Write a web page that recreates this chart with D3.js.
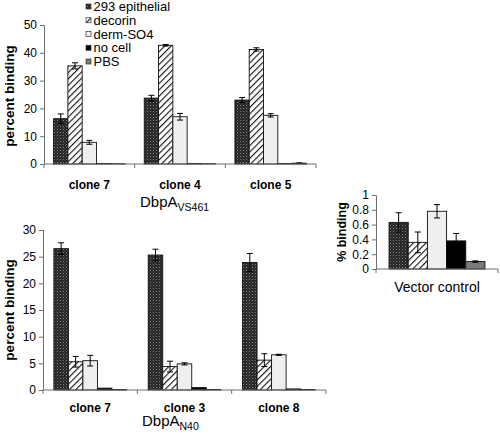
<!DOCTYPE html>
<html><head><meta charset="utf-8">
<script src="https://cdn.jsdelivr.net/npm/d3@7"></script>
<style>body{margin:0;background:#fff}svg{display:block;font-family:"Liberation Sans",Arial,sans-serif}</style>
</head><body><svg id="c" width="500" height="435"></svg>
<script>
const series = ["293 epithelial","decorin","derm-SO4","no cell","PBS"];

const topClones = ["clone 7","clone 4","clone 5"];
const topEpithelial = [16.3, 23.7, 23.0];
const topDecorin    = [35.3, 42.7, 41.2];
const topDerm       = [7.8, 17.0, 17.5];
const topNoCell     = [0.2, 0.2, 0.2];
const topPBS        = [0.1, 0.1, 0.3];
const topErrEpithelial = [1.7, 1.0, 0.9];
const topErrDecorin    = [1.1, 0.3, 0.6];
const topErrDerm       = [0.7, 1.2, 0.6];
const topErrNoCell     = [0, 0, 0];
const topErrPBS        = [0, 0, 0.1];
const topTicks = [0,10,20,30,40,50];

const botClones = ["clone 7","clone 3","clone 8"];
const botEpithelial = [26.5, 25.3, 23.9];
const botDecorin    = [5.3, 4.4, 5.6];
const botDerm       = [5.5, 4.9, 6.6];
const botNoCell     = [0.35, 0.45, 0.2];
const botPBS        = [0.1, 0.1, 0.1];
const botErrEpithelial = [1.1, 1.1, 1.7];
const botErrDecorin    = [1.0, 1.0, 1.2];
const botErrDerm       = [1.0, 0.2, 0.1];
const botErrNoCell     = [0, 0, 0];
const botErrPBS        = [0, 0, 0];
const botTicks = [0,5,10,15,20,25,30];

const vecClones = ["Vector control"];
const vecValues = [0.63, 0.36, 0.78, 0.38, 0.10];
const vecErrors = [0.13, 0.14, 0.09, 0.10, 0.01];
const vecTicks = [0,0.2,0.4,0.6,0.8,1];

const svg = d3.select("#c");
const defs = svg.append("defs");
const pd = defs.append("pattern").attr("id","pDark").attr("patternUnits","userSpaceOnUse").attr("width",3).attr("height",3);
pd.append("rect").attr("width",3).attr("height",3).attr("fill","#242424");
pd.append("rect").attr("x",0).attr("y",0).attr("width",1).attr("height",1).attr("fill","#888");
pd.append("rect").attr("x",1.5).attr("y",1.5).attr("width",1).attr("height",1).attr("fill","#555");
const ph = defs.append("pattern").attr("id","pHatch").attr("patternUnits","userSpaceOnUse").attr("width",4.5).attr("height",4.5).attr("patternTransform","rotate(45)");
ph.append("rect").attr("width",4.5).attr("height",4.5).attr("fill","#fff");
ph.append("line").attr("x1",0).attr("y1",0).attr("x2",0).attr("y2",4.5).attr("stroke","#111").attr("stroke-width",2.2);

const fills = ["url(#pDark)","url(#pHatch)","#efefef","#000","#7a7a7a"];
const axisColor = "#6e6e6e";

function chart(opt){
  const g = svg.append("g");
  const x0 = d3.scaleBand().domain(opt.clones).range(opt.xr).paddingInner(0).paddingOuter(0);
  const x1 = d3.scaleBand().domain(series).range([0,x0.bandwidth()]).paddingInner(0).paddingOuter(opt.pad);
  const y = d3.scaleLinear().domain([0,opt.max]).range(opt.yr);
  const ya = d3.axisLeft(y).tickValues(opt.ticks).tickSize(4).tickPadding(3).tickFormat(opt.fmt||(d=>d));
  const yg = g.append("g").attr("transform",`translate(${opt.xr[0]},0)`).call(ya);
  yg.select(".domain").attr("stroke",axisColor);
  yg.selectAll(".tick line").attr("stroke",axisColor);
  yg.selectAll("text").attr("font-size",opt.tickFont||12).attr("fill","#000").attr("font-family","Liberation Sans, Arial");
  const data = [];
  opt.clones.forEach((c,i)=>series.forEach((s,j)=>data.push({c,s,j,v:opt.vals[j][i],e:opt.errs[j][i]})));
  const bg = g.append("g");
  bg.selectAll("rect").data(data).join("rect")
    .attr("x",d=>x0(d.c)+x1(d.s)).attr("width",x1.bandwidth())
    .attr("y",d=>y(d.v)).attr("height",d=>y(0)-y(d.v))
    .attr("fill",d=>fills[d.j]).attr("stroke","#111").attr("stroke-width",0.9);
  const eg = g.append("g").attr("stroke","#000").attr("stroke-width",1);
  data.filter(d=>d.e>0).forEach(d=>{
    const cx = x0(d.c)+x1(d.s)+x1.bandwidth()/2;
    eg.append("line").attr("x1",cx).attr("x2",cx).attr("y1",y(d.v+d.e)).attr("y2",y(d.v-d.e));
    eg.append("line").attr("x1",cx-3).attr("x2",cx+3).attr("y1",y(d.v+d.e)).attr("y2",y(d.v+d.e));
    eg.append("line").attr("x1",cx-3).attr("x2",cx+3).attr("y1",y(d.v-d.e)).attr("y2",y(d.v-d.e));
  });
  const xa = g.append("g");
  xa.append("line").attr("x1",opt.xr[0]).attr("x2",opt.xr[1]).attr("y1",y(0)).attr("y2",y(0)).attr("stroke",axisColor);
  const bounds = opt.clones.map(c=>x0(c)).concat([opt.xr[1]]);
  xa.selectAll("line.t").data(bounds).join("line").attr("class","t")
    .attr("x1",d=>d).attr("x2",d=>d).attr("y1",y(0)).attr("y2",y(0)+4).attr("stroke",axisColor);
  xa.selectAll("text").data(opt.clones).join("text")
    .attr("x",d=>x0(d)+x0.bandwidth()/2).attr("y",opt.labY)
    .attr("text-anchor","middle").attr("font-size",opt.catFont).attr("font-weight",opt.catBold?"bold":"normal")
    .text(d=>d);
  g.append("text").attr("transform",`translate(${opt.ylx},${opt.yly}) rotate(-90)`)
    .attr("text-anchor","middle").attr("dominant-baseline","central")
    .attr("font-size",opt.ylFont).attr("font-weight","bold").text(opt.ylab);
  return g;
}

chart({clones:topClones, xr:[44,316], yr:[164,25], max:50, ticks:topTicks, pad:0.67,
  vals:[topEpithelial,topDecorin,topDerm,topNoCell,topPBS],
  errs:[topErrEpithelial,topErrDecorin,topErrDerm,topErrNoCell,topErrPBS],
  labY:189, catFont:12, catBold:true, ylab:"percent binding", ylx:9, yly:96, ylFont:13.5});

chart({clones:botClones, xr:[43,326], yr:[390,230], max:30, ticks:botTicks, pad:0.75,
  vals:[botEpithelial,botDecorin,botDerm,botNoCell,botPBS],
  errs:[botErrEpithelial,botErrDecorin,botErrDerm,botErrNoCell,botErrPBS],
  labY:412, catFont:12, catBold:true, ylab:"percent binding", ylx:9, yly:310, ylFont:13.5});

chart({clones:vecClones, xr:[376,498], yr:[269,195], max:1, ticks:vecTicks, pad:0.68,
  vals:vecValues.map(v=>[v]), errs:vecErrors.map(v=>[v]),
  fmt:d=>d, labY:292, catFont:14, catBold:false, ylab:"% binding", ylx:342, yly:232, ylFont:12.5});

function title(x,yb,sub){
  const t = svg.append("text").attr("x",x).attr("y",yb).attr("font-size",15);
  t.append("tspan").text("DbpA");
  t.append("tspan").attr("font-size",10.5).attr("dy",3.5).text(sub);
}
title(140,207,"VS461");
title(142,426,"N40");

const lg = svg.append("g");
series.forEach((s,i)=>{
  const cy = 6.5 + i*13.75;
  lg.append("rect").attr("x",86).attr("y",cy-2.5).attr("width",5).attr("height",5)
    .attr("fill",fills[i]).attr("stroke","#333").attr("stroke-width",0.7);
  lg.append("text").attr("x",93.5).attr("y",cy).attr("dominant-baseline","central")
    .attr("font-size",13).text(s);
});
</script></body></html>
